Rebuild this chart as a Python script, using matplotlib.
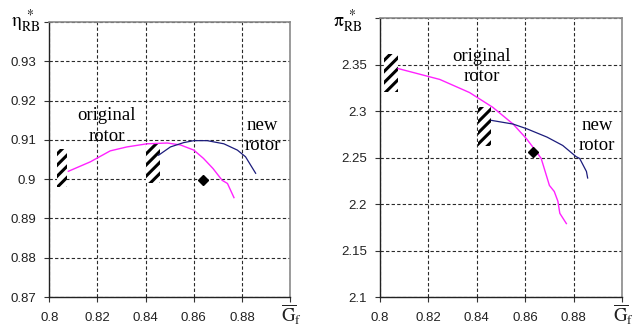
import matplotlib
matplotlib.use("Agg")
import matplotlib.pyplot as plt
from matplotlib.patches import Rectangle

plt.rcParams['font.family'] = ['Liberation Sans', 'DejaVu Sans']
plt.rcParams['mathtext.fontset'] = 'stix'
plt.rcParams['hatch.linewidth'] = 2.2

# relative mass flow
x_ticks = [0.8, 0.82, 0.84, 0.86, 0.88, 0.9]
x_ticklabels = ['0.8', '0.82', '0.84', '0.86', '0.88', '']

# efficiency, original rotor
eff_orig_x = [0.8079, 0.817, 0.8253, 0.8322, 0.8406, 0.849, 0.8545, 0.860, 0.864, 0.868, 0.8718, 0.874, 0.8767]
eff_orig_y = [0.9020, 0.9044, 0.9072, 0.9082, 0.9090, 0.9092, 0.9087, 0.9074, 0.9053, 0.9027, 0.8997, 0.8989, 0.8953]
# efficiency, new rotor
eff_new_x = [0.8454, 0.8503, 0.8558, 0.860, 0.8656, 0.8725, 0.8781, 0.8815, 0.8836, 0.8857]
eff_new_y = [0.9061, 0.9082, 0.9093, 0.9098, 0.9098, 0.9090, 0.9074, 0.9057, 0.9036, 0.9015]
eff_point = (0.8637, 0.8999)
eff_ticks = [0.87, 0.88, 0.89, 0.9, 0.91, 0.92, 0.93, 0.94]
eff_ticklabels = ['0.87', '0.88', '0.89', '0.9', '0.91', '0.92', '0.93', '']
# measured ranges (x0, x1, y0, y1)
eff_boxes = [(0.8031, 0.8075, 0.8980, 0.9076), (0.8403, 0.8458, 0.8991, 0.9093)]

# pressure ratio, original rotor
pr_orig_x = [0.8075, 0.8247, 0.837, 0.8466, 0.855, 0.8606, 0.8647, 0.8666, 0.870, 0.872, 0.8735, 0.8743, 0.877]
pr_orig_y = [2.3457, 2.334, 2.3199, 2.304, 2.286, 2.270, 2.256, 2.249, 2.220, 2.2135, 2.203, 2.190, 2.179]
# pressure ratio, new rotor
pr_new_x = [0.846, 0.855, 0.8606, 0.869, 0.8755, 0.881, 0.8825, 0.8853, 0.8858]
pr_new_y = [2.290, 2.286, 2.281, 2.272, 2.263, 2.251, 2.249, 2.235, 2.228]
pr_point = (0.8631, 2.256)
pr_ticks = [2.1, 2.15, 2.2, 2.25, 2.3, 2.35, 2.4]
pr_ticklabels = ['2.1', '2.15', '2.2', '2.25', '2.3', '2.35', '']
pr_boxes = [(0.8017, 0.8074, 2.320, 2.3617), (0.8404, 0.8458, 2.262, 2.304)]

fig = plt.figure(figsize=(6.34, 3.27), dpi=100)
ax1 = fig.add_axes([0.0778, 0.0917, 0.3797, 0.841])
ax2 = fig.add_axes([0.5994, 0.0917, 0.3817, 0.853])


def style_axes(ax, yticks, yticklabels):
    ax.set_xlim(0.8, 0.9)
    ax.set_ylim(yticks[0], yticks[-1])
    ax.set_xticks(x_ticks)
    ax.set_xticklabels(x_ticklabels)
    ax.set_yticks(yticks)
    ax.set_yticklabels(yticklabels)
    ax.set_axisbelow(True)
    ax.grid(True, color='#2a2a2a', linestyle=(0, (3, 2)), linewidth=0.8)
    ax.tick_params(direction='out', length=3.5, width=0.8, colors='#333333',
                   labelsize=9.5, labelcolor='#222222')
    ax.tick_params(axis='y', pad=6)
    ax.tick_params(axis='x', pad=7)
    for s in ['left', 'bottom']:
        ax.spines[s].set_color('#222222')
        ax.spines[s].set_linewidth(1.0)
    for s in ['top', 'right']:
        ax.spines[s].set_color('#8a8a8a')
        ax.spines[s].set_linewidth(1.2)
    # flow axis name sits under the right end of the axis
    x_fig = ax.get_position().x1 + 0.003
    fig.text(x_fig, 0.038, r'$\overline{\mathrm{G}}_{\mathrm{f}}$',
             ha='center', va='center', fontsize=13.5, color='#222222')


def draw_boxes(ax, boxes):
    for x0, x1, y0, y1 in boxes:
        ax.add_patch(Rectangle((x0, y0), x1 - x0, y1 - y0, facecolor='white',
                               edgecolor='black', hatch='///', linewidth=0, zorder=3))


# efficiency
style_axes(ax1, eff_ticks, eff_ticklabels)
draw_boxes(ax1, eff_boxes)
ax1.plot(eff_orig_x, eff_orig_y, color='#ff22ff', lw=1.0, zorder=4)
ax1.plot(eff_new_x, eff_new_y, color='#1c1c7c', lw=0.9, zorder=4)
ax1.plot(*eff_point, marker='D', color='black', ms=5, zorder=5)
ax1.text(0.8239, 0.9135, 'original\nrotor', ha='center', va='center', fontsize=13.5,
         family='Liberation Serif', linespacing=1.25)
ax1.text(0.8886, 0.9112, 'new\nrotor', ha='center', va='center', fontsize=13.5,
         family='Liberation Serif', linespacing=1.25)
fig.text(0.018, 1 - 27 / 327, r'$\mathrm{\eta}_{\mathrm{RB}}^{\ *}$', fontsize=14,
         va='baseline', ha='left')

# pressure ratio
style_axes(ax2, pr_ticks, pr_ticklabels)
draw_boxes(ax2, pr_boxes)
ax2.plot(pr_orig_x, pr_orig_y, color='#ff22ff', lw=1.0, zorder=4)
ax2.plot(pr_new_x, pr_new_y, color='#1c1c7c', lw=0.9, zorder=4)
ax2.plot(*pr_point, marker='D', color='black', ms=5, zorder=5)
ax2.text(0.8421, 2.348, 'original\nrotor', ha='center', va='center', fontsize=13.5,
         family='Liberation Serif', linespacing=1.25)
ax2.text(0.8897, 2.2734, 'new\nrotor', ha='center', va='center', fontsize=13.5,
         family='Liberation Serif', linespacing=1.25)
fig.text(0.526, 1 - 27 / 327, r'$\mathrm{\pi}_{\mathrm{RB}}^{\ *}$', fontsize=14,
         va='baseline', ha='left')

fig.savefig('out.png', dpi=100)
